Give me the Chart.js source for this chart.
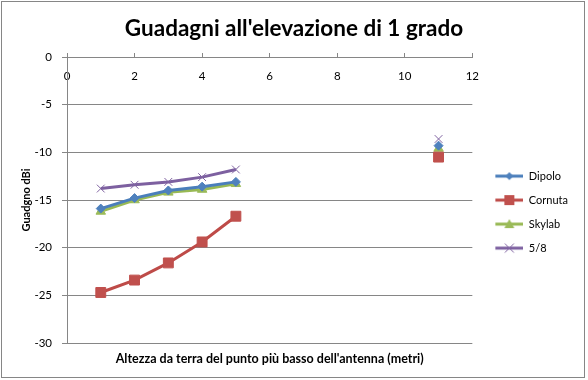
<!DOCTYPE html>
<html>
<head>
<meta charset="utf-8">
<script src="https://cdn.jsdelivr.net/npm/chart.js@4.4.1/dist/chart.umd.min.js"></script>
<style>
  html, body { margin: 0; padding: 0; background: #fff; }
  #wrap { width: 588px; height: 380px; position: relative; }
</style>
</head>
<body>
<div id="wrap"><canvas id="c" width="588" height="380"></canvas></div>
<script>
// ---- data ----
const heights = [1, 2, 3, 4, 5, 6, 7, 8, 9, 10, 11];
const dipolo  = [-15.9, -14.8, -14.0, -13.6, -13.1, null, null, null, null, null, -9.3];
const cornuta = [-24.7, -23.4, -21.6, -19.4, -16.7, null, null, null, null, null, -10.5];
const skylab  = [-16.2, -15.0, -14.2, -13.9, -13.3, null, null, null, null, null, -9.6];
const cinqueOttavi = [-13.8, -13.4, -13.1, -12.6, -11.8, null, null, null, null, null, -8.6];
const seriesNames = ['Dipolo', 'Cornuta', 'Skylab', '5/8'];
const xTicks = { min: 0, max: 12, step: 2 };
const yTicks = { min: -30, max: 0, step: 5 };

const FONT = 'Lato, "Open Sans", sans-serif';
const GRID = '#868686';

function pts(arr) { return heights.map((x, i) => ({ x: x, y: arr[i] })); }

function legendIcon(kind, line, fill) {
  const cv = document.createElement('canvas');
  const off = 10;
  cv.width = 28 + off; cv.height = 12;
  const g = cv.getContext('2d');
  g.translate(off, 0);
  g.strokeStyle = line; g.lineWidth = 3;
  g.beginPath(); g.moveTo(0, 6); g.lineTo(28, 6); g.stroke();
  g.fillStyle = fill;
  g.beginPath();
  if (kind === 'diamond') {
    g.moveTo(14, 2); g.lineTo(18, 6); g.lineTo(14, 10); g.lineTo(10, 6); g.closePath(); g.fill();
  } else if (kind === 'square') {
    g.rect(9, 1, 10, 10); g.fill();
  } else if (kind === 'triangle') {
    g.moveTo(14, 1); g.lineTo(19, 10); g.lineTo(9, 10); g.closePath(); g.fill();
  } else {
    g.strokeStyle = fill; g.lineWidth = 1;
    g.moveTo(9.5, 1.5); g.lineTo(18.5, 10.5); g.moveTo(18.5, 1.5); g.lineTo(9.5, 10.5); g.stroke();
  }
  return cv;
}

const styles = [
  { line: '#4A7EBB', fill: '#4F81BD', ps: 'rectRot', r: 4.5, bw: 1, icon: 'diamond' },
  { line: '#BE4B48', fill: '#C0504D', ps: 'rect', r: 7, bw: 1, icon: 'square' },
  { line: '#98B954', fill: '#9BBB59', ps: 'triangle', r: 5.5, bw: 1, icon: 'triangle' },
  { line: '#7D60A0', fill: '#8064A2', ps: 'crossRot', r: 5.5, bw: 1, icon: 'x' }
];
const values = [dipolo, cornuta, skylab, cinqueOttavi];

const datasets = values.map((arr, i) => ({
  label: seriesNames[i],
  data: pts(arr),
  borderColor: styles[i].line,
  backgroundColor: styles[i].fill,
  borderWidth: 3,
  pointStyle: styles[i].ps,
  pointRadius: styles[i].r,
  pointBorderWidth: styles[i].bw,
  pointBackgroundColor: styles[i].fill,
  pointBorderColor: styles[i].fill,
  spanGaps: false,
  tension: 0,
  xAxisID: 'x',
  yAxisID: 'y'
}));

const borderPlugin = {
  id: 'outerBorder',
  afterDraw(chart) {
    const ctx = chart.ctx;
    ctx.save();
    ctx.strokeStyle = GRID; ctx.lineWidth = 1;
    ctx.strokeRect(1.5, 1.5, 583, 376);
    ctx.restore();
  }
};

new Chart(document.getElementById('c'), {
  type: 'line',
  data: { datasets: datasets },
  plugins: [borderPlugin],
  options: {
    responsive: false,
    animation: false,
    layout: { padding: { left: 10, right: 10, top: 0, bottom: 14 } },
    plugins: {
      title: {
        display: true,
        text: "Guadagni all'elevazione di 1 grado",
        color: '#000',
        font: { family: FONT, size: 22.5, weight: 'bold' },
        padding: { top: 15, bottom: 11 }
      },
      legend: {
        position: 'right',
        title: { display: true, text: ' ', font: { family: FONT, size: 11 }, padding: { top: 0, bottom: 45 } },
        labels: {
          color: '#000',
          font: { family: FONT, size: 11 },
          usePointStyle: true,
          pointStyleWidth: 38,
          boxHeight: 11,
          padding: 13,
          generateLabels(chart) {
            return chart.data.datasets.map((ds, i) => ({
              text: ds.label,
              pointStyle: legendIcon(styles[i].icon, styles[i].line, styles[i].fill),
              fillStyle: styles[i].fill,
              strokeStyle: styles[i].line,
              lineWidth: 0,
              hidden: false,
              datasetIndex: i,
              fontColor: '#000'
            }));
          }
        }
      },
      tooltip: { enabled: false }
    },
    scales: {
      x: {
        type: 'linear',
        position: 'top',
        min: xTicks.min, max: xTicks.max,
        offset: false,
        afterFit(scale) { scale.height = 4; },
        ticks: {
          stepSize: xTicks.step,
          mirror: true,
          padding: 12,
          color: '#000',
          font: { family: FONT, size: 11.5 }
        },
        grid: { drawOnChartArea: false, drawTicks: true, tickLength: 4, color: GRID },
        border: { display: true, color: GRID }
      },
      xb: {
        type: 'linear',
        position: 'bottom',
        ticks: { display: false },
        grid: { display: false, drawTicks: false },
        border: { display: false },
        title: {
          display: true,
          text: "Altezza da terra del punto più basso dell'antenna (metri)",
          color: '#000',
          font: { family: FONT, size: 12.5, weight: 'bold' },
          padding: { top: 8, bottom: 0 }
        }
      },
      y: {
        type: 'linear',
        position: 'left',
        min: yTicks.min, max: yTicks.max,
        afterFit(scale) { scale.width = 57; },
        ticks: {
          stepSize: yTicks.step,
          padding: 10,
          color: '#000',
          font: { family: FONT, size: 11.5 }
        },
        grid: { color: GRID, drawTicks: true, tickLength: 5 },
        border: { display: true, color: GRID },
        title: {
          display: true,
          text: 'Guadgno dBi',
          color: '#000',
          font: { family: FONT, size: 11, weight: 'bold' },
          padding: { top: 10, bottom: 0 }
        }
      }
    }
  }
});
</script>
</body>
</html>
